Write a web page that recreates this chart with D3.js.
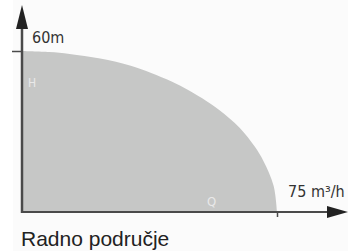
<!DOCTYPE html>
<html>
<head>
<meta charset="utf-8">
<script src="https://cdn.jsdelivr.net/npm/d3@7"></script>
<style>
  html, body { margin: 0; padding: 0; background: #fff; }
  svg { display: block; }
  .lbl { font-family: "DejaVu Sans Condensed", "DejaVu Sans", sans-serif; font-stretch: condensed; }
</style>
</head>
<body>
<div class="chart"></div>
<script>
// working range of the pump: head H (m) against flow Q (m3/h)

const flowQ = [0, 8, 14, 23, 32, 38, 44, 49, 53, 58, 64, 68.5, 71, 74, 75];
const headH = [60, 59.6, 58.9, 57.2, 54.5, 51.8, 48.6, 45.4, 42.4, 38.0, 31.4, 24.3, 19.0, 9.8, 0];

const maxQ = 75, maxH = 60;
const axisLabels = ["60m", "75 m³/h"];
const areaLabels = ["H", "Q"];
const caption = "Radno područje";

const width = 348,
      height = 251;

const svg = d3.select(".chart")
              .append("svg")
              .attr("width", width)
              .attr("height", height);

// faint paper background
svg.append("rect")
   .attr("x", 13).attr("y", 0)
   .attr("width", width - 13).attr("height", height)
   .attr("fill", "#fbfbfb");

const x = d3.scaleLinear().domain([0, maxQ]).range([22, 277]);
const y = d3.scaleLinear().domain([0, maxH]).range([212, 51]);

const data = flowQ.map((q, i) => ({ q: q, h: headH[i] }));

// grey area under the curve
const area = d3.area()
               .x(d => x(d.q))
               .y0(y(0))
               .y1(d => y(d.h))
               .curve(d3.curveCatmullRom);

svg.append("path")
   .datum(data)
   .attr("d", area)
   .attr("fill", "#c6c7c6");

const axisColor = "#4a4a4a";

// y axis line + arrow
svg.append("line")
   .attr("x1", x(0)).attr("x2", x(0))
   .attr("y1", 20).attr("y2", y(0) + 1)
   .attr("stroke", axisColor).attr("stroke-width", 2.5);

svg.append("path")
   .attr("d", `M${x(0)},5 L${x(0) + 6},29 L${x(0) - 6},29 Z`)
   .attr("fill", "#222");

// x axis line + arrow
svg.append("line")
   .attr("x1", x(0) - 1).attr("x2", 335)
   .attr("y1", y(0)).attr("y2", y(0))
   .attr("stroke", axisColor).attr("stroke-width", 2);

svg.append("path")
   .attr("d", `M348,${y(0)} L327,${y(0) - 6} L327,${y(0) + 6} Z`)
   .attr("fill", "#222");

// single ticks
const yTick = svg.append("g")
   .attr("transform", `translate(${x(0)},0)`)
   .call(d3.axisLeft(y).tickValues([maxH]).tickSize(10).tickFormat(""));
yTick.select(".domain").remove();
yTick.selectAll("line").attr("stroke", axisColor).attr("stroke-width", 1.5);

const xTick = svg.append("g")
   .attr("transform", `translate(0,${y(0)})`)
   .call(d3.axisBottom(x).tickValues([maxQ]).tickSize(5).tickFormat(""));
xTick.select(".domain").remove();
xTick.selectAll("line").attr("stroke", axisColor).attr("stroke-width", 1.5);

// axis end labels
svg.append("text")
   .attr("class", "lbl")
   .attr("x", x(0) + 10).attr("y", y(maxH) - 8)
   .attr("font-size", 16).attr("fill", "#333")
   .text(axisLabels[0]);

svg.append("text")
   .attr("class", "lbl")
   .attr("x", x(maxQ) + 11).attr("y", y(0) - 15)
   .attr("font-size", 16).attr("fill", "#333")
   .text(axisLabels[1]);

// faint letters inside the area
svg.append("text")
   .attr("class", "lbl")
   .attr("x", x(0) + 6).attr("y", 87)
   .attr("font-size", 12).attr("fill", "#e9e9e9")
   .text(areaLabels[0]);

svg.append("text")
   .attr("class", "lbl")
   .attr("x", 207).attr("y", 206)
   .attr("font-size", 13).attr("fill", "#e9e9e9")
   .text(areaLabels[1]);

// caption
svg.append("text")
   .attr("x", 21).attr("y", 246)
   .attr("font-family", "'Liberation Sans', Arial, sans-serif")
   .attr("font-size", 21).attr("fill", "#222")
   .text(caption);
</script>
</body>
</html>
